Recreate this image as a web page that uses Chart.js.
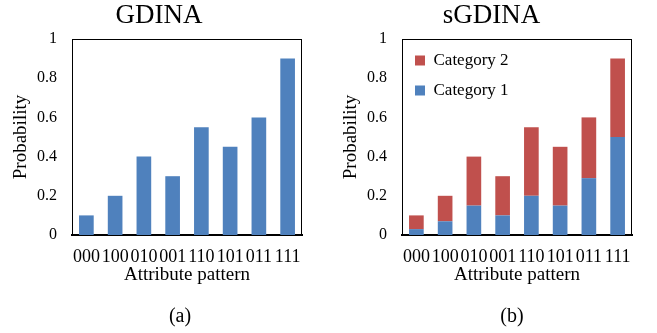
<!DOCTYPE html>
<html>
<head>
<meta charset="utf-8">
<script src="https://cdn.jsdelivr.net/npm/chart.js@4/dist/chart.umd.min.js"></script>
<style>
  body { margin: 0; width: 657px; height: 333px; position: relative; overflow: hidden; background: #fff; }
  canvas { position: absolute; top: 0; }
  .cap { position: absolute; top: 305px; width: 80px; text-align: center; font: 20px "Liberation Serif"; line-height: 20px; color: #000; }
</style>
</head>
<body>
<canvas id="gdina" width="330" height="333" style="left:0"></canvas>
<canvas id="sgdina" width="327" height="333" style="left:330px"></canvas>
<div class="cap" style="left:140px">(a)</div>
<div class="cap" style="left:472px">(b)</div>
<script>
const patterns = ['000', '100', '010', '001', '110', '101', '011', '111']
const gdinaProb = [0.1, 0.2, 0.4, 0.3, 0.55, 0.45, 0.6, 0.9]
const sgdinaCat1 = [0.03, 0.07, 0.15, 0.1, 0.2, 0.15, 0.29, 0.5]
const sgdinaCat2 = [0.07, 0.13, 0.25, 0.2, 0.35, 0.3, 0.31, 0.4]
const yTicks = [0, 0.2, 0.4, 0.6, 0.8, 1]

const BLUE = '#4F81BD'
const RED = '#C0504D'

Chart.defaults.font.family = '"Liberation Serif", "Times New Roman", serif'
Chart.defaults.color = '#000'

// thin black frame round the plot area, like the Excel plot border
const plotFrame = {
  id: 'plotFrame',
  afterLayout(chart) {
    // a vertical legend in the chart area gets its top reset to 0, put it back
    if (chart.legend) chart.legend.top = chart.chartArea.top
  },
  beforeDatasetsDraw(chart) {
    const { ctx, chartArea: a } = chart
    ctx.save()
    ctx.strokeStyle = '#000'
    ctx.lineWidth = 1
    ctx.strokeRect(a.left + 0.5, a.top + 0.5, a.width - 1, a.height)
    ctx.restore()
  }
}

// padLeft/padRight place the plot; the title is centred between them
const makeChart = (id, title, datasets, stacked, padLeft, padRight) => {
  const ctx = document.getElementById(id).getContext('2d')
  return new Chart(ctx, {
    type: 'bar',
    data: { labels: patterns, datasets },
    plugins: [plotFrame],
    options: {
      responsive: false,
      animation: false,
      layout: { padding: { left: padLeft, top: 0, right: padRight, bottom: 43 } },
      datasets: { bar: { categoryPercentage: 1, barPercentage: 0.51 } },
      plugins: {
        title: {
          display: true,
          text: title,
          font: { size: 27, weight: 'normal', lineHeight: 1 },
          padding: { top: 2, bottom: 10 }
        },
        legend: {
          display: datasets.length > 1,
          position: 'chartArea',
          align: 'start',
          reverse: true,
          labels: { boxWidth: 10, boxHeight: 10, padding: 13, font: { size: 17 } }
        },
        tooltip: { enabled: false }
      },
      scales: {
        x: {
          stacked,
          grid: { display: false, drawTicks: false },
          border: { display: true, color: '#000', width: 2 },
          ticks: { padding: 11, autoSkip: false, maxRotation: 0, font: { size: 18 } },
          title: { display: true, text: 'Attribute pattern', font: { size: 19 }, padding: { top: 0, bottom: 4 } },
          afterFit: s => { s.height = 55 }
        },
        y: {
          stacked,
          min: 0,
          max: 1,
          grid: { display: false, drawTicks: false },
          border: { display: false },
          afterBuildTicks: s => { s.ticks = yTicks.map(v => ({ value: v })) },
          ticks: { padding: 15, font: { size: 16 }, callback: v => String(v) },
          title: { display: true, text: 'Probability', font: { size: 19 }, padding: { top: 9.6 - padLeft, bottom: 0 } },
          afterFit: s => { s.width = 72 - padLeft }
        }
      }
    }
  })
}

makeChart('gdina', 'GDINA', [
  { label: 'Probability', data: gdinaProb, backgroundColor: BLUE }
], false, 16, 28)

makeChart('sgdina', 'sGDINA', [
  { label: 'Category 1', data: sgdinaCat1, backgroundColor: BLUE },
  { label: 'Category 2', data: sgdinaCat2, backgroundColor: RED }
], true, 21, 25)
</script>
</body>
</html>
